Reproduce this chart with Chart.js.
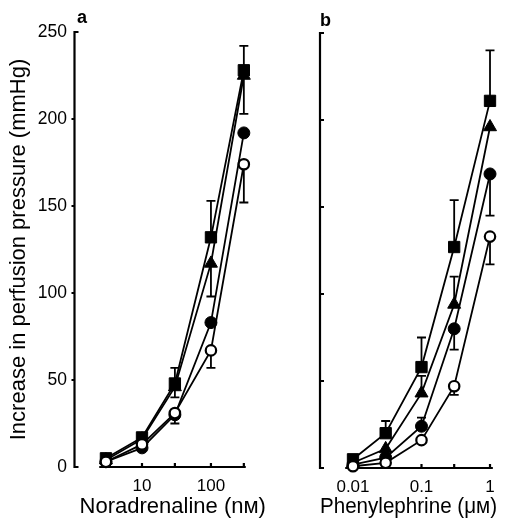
<!DOCTYPE html>
<html lang="en">
<head>
<meta charset="UTF-8" />
<title>Perfusion pressure</title>
<script src="https://cdn.jsdelivr.net/npm/chart.js"></script>
<style>
  body { margin: 0; background: #fff; }
  #wrap { position: relative; width: 506px; height: 520px; overflow: hidden; }
  canvas { position: absolute; top: 0; }
</style>
</head>
<body>
<div id="wrap">
  <canvas id="chartA" width="280" height="520" style="left:0"></canvas>
  <canvas id="chartB" width="253" height="520" style="left:253px"></canvas>
</div>
<script>
// panel a: noradrenaline (nM)
const naDose = [3, 10, 30, 100, 300];
const naSquare = [5, 17, 48, 132, 228];
const naTriangle = [4, 16, 46, 117, 225];
const naFilled = [3, 11, 30, 83, 192];
const naOpen = [3, 13, 31, 67, 174];
// error bars: + drawn upwards, - drawn downwards, null = none
const naSquareErr = [null, null, 9, 21, 14];
const naTriangleErr = [null, null, -6, -19, -22];
const naFilledErr = [null, null, -5, null, null];
const naOpenErr = [null, null, null, -10, -22];

// panel b: phenylephrine (uM)
const peDose = [0.01, 0.03, 0.1, 0.3, 1];
const peSquare = [5, 20, 58, 127, 211];
const peTriangle = [3, 11, 43, 94, 196];
const peFilled = [2, 6, 24, 80, 169];
const peOpen = [1, 3, 16, 47, 133];
const peSquareErr = [null, 7, 17, 27, 29];
const peTriangleErr = [null, null, 10, 16, null];
const peFilledErr = [null, null, 5, -12, -24];
const peOpenErr = [null, null, null, -5, -16];

const yTicks = [0, 50, 100, 150, 200, 250];
const naTickLabels = [10, 100];
const peTickLabels = [0.01, 0.1, 1];

Chart.defaults.font.family = '"Liberation Sans", Arial, "DejaVu Sans", sans-serif';
Chart.defaults.color = '#000';

function series(xs, ys, errs, style) {
  return Object.assign({
    data: xs.map((x, i) => ({ x: x, y: ys[i] })),
    err: errs,
    borderColor: '#000',
    borderWidth: 1.8,
    pointBorderColor: '#000',
    pointBackgroundColor: '#000',
    pointBorderWidth: 1,
    clip: false
  }, style);
}

const sq = { pointStyle: 'rect', pointRadius: 8 };
const tri = { pointStyle: 'triangle', pointRadius: 7.5 };
const dot = { pointStyle: 'circle', pointRadius: 6 };
const ring = { pointStyle: 'circle', pointRadius: 5.2, pointBackgroundColor: '#fff', pointBorderWidth: 2.2 };

const errorBars = {
  id: 'errorBars',
  beforeDatasetsDraw(chart) {
    const { ctx, scales: { x, y } } = chart;
    ctx.save();
    ctx.strokeStyle = '#000';
    ctx.lineWidth = 1.8;
    chart.data.datasets.forEach(ds => {
      ds.data.forEach((p, i) => {
        const e = ds.err[i];
        if (e == null) return;
        const px = x.getPixelForValue(p.x);
        const y0 = y.getPixelForValue(p.y);
        const y1 = y.getPixelForValue(p.y + e);
        ctx.beginPath();
        ctx.moveTo(px, y0); ctx.lineTo(px, y1);
        ctx.moveTo(px - 4.5, y1); ctx.lineTo(px + 4.5, y1);
        ctx.stroke();
      });
    });
    ctx.restore();
  }
};

const axisLines = {
  id: 'axisLines',
  beforeDatasetsDraw(chart, args, opts) {
    const { ctx, chartArea, scales: { x, y } } = chart;
    const left = chartArea.left;
    const yb = y.getPixelForValue(0), yt = y.getPixelForValue(250);
    ctx.save();
    ctx.strokeStyle = '#000';
    ctx.lineWidth = 2.2;
    ctx.beginPath();
    ctx.moveTo(left + 4, yt); ctx.lineTo(left, yt); ctx.lineTo(left, yb); ctx.lineTo(left + 4, yb);
    yTicks.slice(1, -1).forEach(v => {
      const py = y.getPixelForValue(v);
      ctx.moveTo(left, py); ctx.lineTo(left + opts.yTick, py);
    });
    ctx.stroke();
    ctx.beginPath();
    ctx.moveTo(x.getPixelForValue(opts.from), yb);
    ctx.lineTo(x.getPixelForValue(opts.to), yb);
    opts.ticks.forEach(v => {
      const px = x.getPixelForValue(v);
      ctx.moveTo(px, yb); ctx.lineTo(px, yb - 4);
    });
    ctx.stroke();
    ctx.fillStyle = '#000';
    ctx.font = 'bold 18px "Liberation Sans", Arial, sans-serif';
    ctx.fillText(opts.label, left + opts.labelDx, opts.labelY);
    ctx.restore();
  }
};

function makeChart(id, doses, sets, xMin, xMax, labels, yWidth, xHeight, padTop, padRight, yShow, title, axis) {
  return new Chart(document.getElementById(id), {
    type: 'line',
    data: { datasets: sets },
    plugins: [axisLines, errorBars],
    options: {
      responsive: false,
      animation: false,
      layout: { padding: { top: padTop, right: padRight, left: 0, bottom: 0 } },
      plugins: { legend: { display: false }, tooltip: { enabled: false }, axisLines: axis },
      scales: {
        x: {
          type: 'logarithmic',
          min: xMin, max: xMax,
          grid: { display: false, drawTicks: false },
          border: { display: false },
          afterBuildTicks: s => { s.ticks = doses.map(v => ({ value: v })); },
          afterFit: s => { s.height = xHeight; },
          ticks: {
            autoSkip: false, maxRotation: 0, padding: 9,
            font: { size: 17 },
            callback: v => labels.includes(v) ? String(v) : ''
          },
          title: { display: true, text: title, font: { size: 22 }, padding: 0 }
        },
        y: {
          min: 0, max: 250,
          grid: { display: false, drawTicks: false },
          border: { display: false },
          afterBuildTicks: s => { s.ticks = yTicks.map(v => ({ value: v })); },
          afterFit: s => { s.width = yWidth; },
          ticks: { display: yShow, padding: 7.5, font: { size: 17.5 } },
          title: {
            display: yShow, text: 'Increase in perfusion pressure (mmHg)',
            font: { size: 22 }, padding: { top: 6, bottom: 0 }
          }
        }
      }
    }
  });
}

makeChart('chartA', naDose, [
  series(naDose, naOpen, naOpenErr, ring),
  series(naDose, naFilled, naFilledErr, dot),
  series(naDose, naTriangle, naTriangleErr, tri),
  series(naDose, naSquare, naSquareErr, sq)
], 1.05, 743, naTickLabels, 74.5, 53, 32, 6, true, 'Noradrenaline (n\u1D0D)',
  { from: 2.4, to: 320, ticks: naDose, yTick: -3, label: 'a', labelDx: 2.5, labelY: 23 });

makeChart('chartB', peDose, [
  series(peDose, peOpen, peOpenErr, ring),
  series(peDose, peFilled, peFilledErr, dot),
  series(peDose, peTriangle, peTriangleErr, tri),
  series(peDose, peSquare, peSquareErr, sq)
], 0.0033, 1.265, peTickLabels, 67, 52, 33, 9, false, 'Phenylephrine (\u03BC\u1D0D)',
  { from: 0.0077, to: 1.1, ticks: peDose, yTick: 4, label: 'b', labelDx: 0, labelY: 26 });
</script>
</body>
</html>
